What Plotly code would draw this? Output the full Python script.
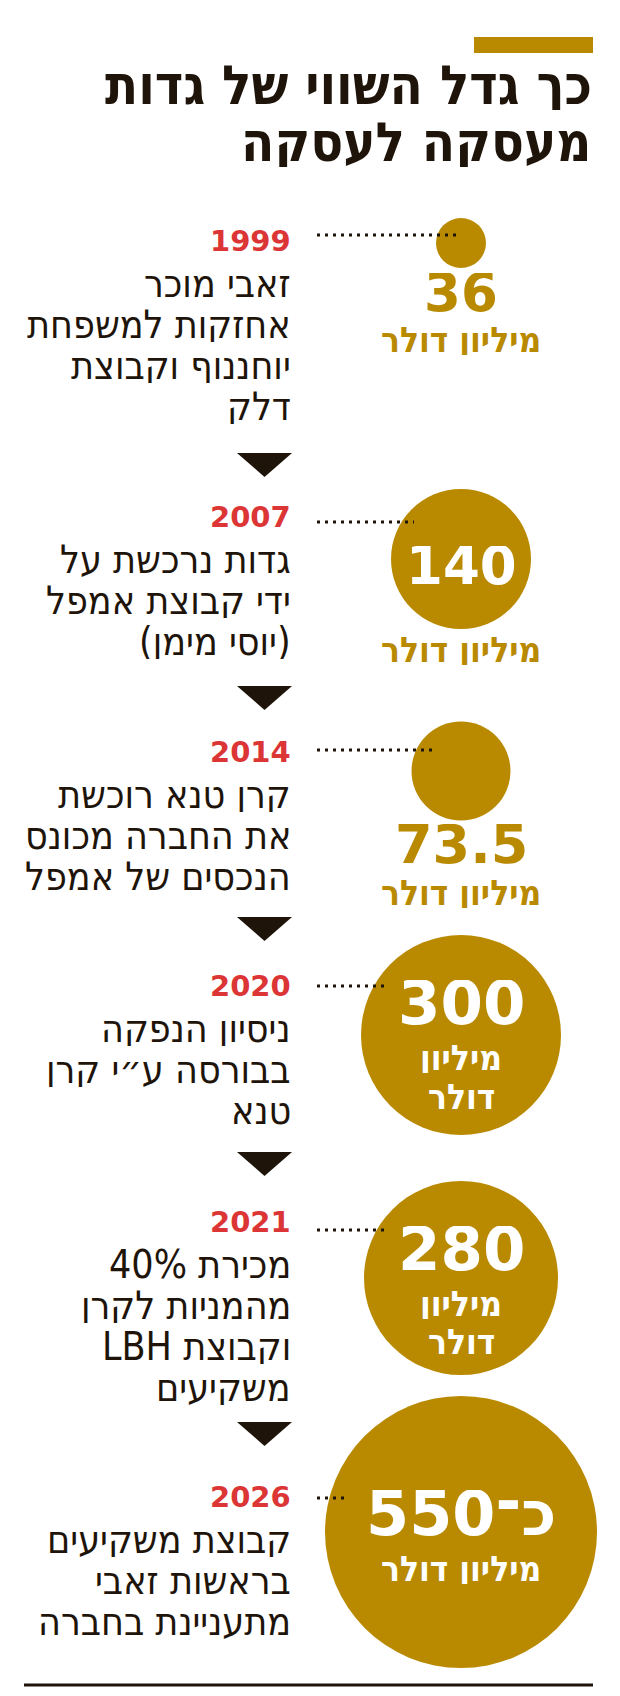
import plotly.graph_objects as go

# data
years = ["1999", "2007", "2014", "2020", "2021", "2026"]
values = [36, 140, 73.5, 300, 280, 550]
value_labels = ["36", "140", "73.5", "300", "280", "כ־550"]
events = [
    ["זאבי מוכר", "אחזקות למשפחת", "יוחננוף וקבוצת", "דלק"],
    ["גדות נרכשת על", "ידי קבוצת אמפל", "(יוסי מימן)"],
    ["קרן טנא רוכשת", "את החברה מכונס", "הנכסים של אמפל"],
    ["ניסיון הנפקה", "בבורסה ע״י קרן", "טנא"],
    ["מכירת 40%", "מהמניות לקרן", "וקבוצת LBH", "משקיעים"],
    ["קבוצת משקיעים", "בראשות זאבי", "מתעניינת בחברה"],
]
unit = "מיליון דולר"
title_lines = ["כך גדל השווי של גדות", "מעסקה לעסקה"]

# layout (pixels, y measured from top)
W, H = 620, 1696
GOLD = "#B98A00"
RED = "#DC3535"
DARK = "#1E140A"
HEB = "DejaVu Sans Condensed, DejaVu Sans, sans-serif"
NUM = "DejaVu Sans, sans-serif"


def rtl(s):
    # right-to-left embedding so mixed Hebrew/Latin lines order like the original
    return "\u202b" + s + "\u202c"


text_right = 293
circle_x = 461
year_y = [241, 517, 752, 986, 1222, 1497]
dots_y = [235, 522, 750, 986, 1230, 1498]
circle_y = [243, 559, 771, 1035, 1278, 1532]
circle_d = [50, 140, 99, 200, 194, 272]
arrow_top = [453, 686, 917, 1152, 1422]

# where the number/unit goes: inside the bubble (white) or under it (gold)
num_style = [
    dict(y=292, size=53, color=GOLD),
    dict(y=565, size=53, color="white"),
    dict(y=844, size=54, color=GOLD),
    dict(y=1002, size=61, color="white"),
    dict(y=1248, size=61, color="white"),
    dict(y=1513, size=62, color="white"),
]
unit_style = [
    dict(lines=[unit], y=[340], color=GOLD),
    dict(lines=[unit], y=[650], color=GOLD),
    dict(lines=[unit], y=[893], color=GOLD),
    dict(lines=unit.split(" "), y=[1058, 1097], color="white"),
    dict(lines=unit.split(" "), y=[1304, 1342], color="white"),
    dict(lines=[unit], y=[1569], color="white"),
]

fig = go.Figure()

fig.add_trace(go.Scatter(
    x=[circle_x] * len(values), y=circle_y,
    mode="markers",
    marker=dict(size=circle_d, color=GOLD, opacity=1, line=dict(width=0)),
    customdata=values, hoverinfo="skip", showlegend=False,
))

shapes = []
annotations = []

# gold bar + title
shapes.append(dict(type="rect", x0=474, x1=593, y0=37, y1=53,
                   fillcolor=GOLD, line=dict(width=0)))
for line, y in zip(title_lines, [85, 142]):
    annotations.append(dict(x=594, y=y, text=rtl(line), xanchor="right", yanchor="middle",
                            height=50, showarrow=False,
                            font=dict(family=HEB, size=54, color=DARK, weight="bold")))

for i, yr in enumerate(years):
    annotations.append(dict(x=text_right, y=year_y[i], text=yr, xanchor="right",
                            yanchor="middle", height=26, showarrow=False,
                            font=dict(family=NUM, size=29, color=RED, weight="bold")))
    for j, line in enumerate(events[i]):
        annotations.append(dict(x=text_right, y=year_y[i] + 42 + 41 * j, text=rtl(line),
                                xanchor="right", yanchor="middle", height=36,
                                showarrow=False,
                                font=dict(family=HEB, size=39, color=DARK)))
    # dotted connector into the bubble
    x_end = circle_x - circle_d[i] / 2 + 23
    shapes.append(dict(type="line", x0=317, x1=x_end, y0=dots_y[i], y1=dots_y[i],
                       line=dict(color=DARK, width=3, dash="3px,5px")))
    ns = num_style[i]
    annotations.append(dict(x=circle_x, y=ns["y"], text=rtl(value_labels[i]),
                            xanchor="center", yanchor="middle",
                            height=int(ns["size"] * 0.75), showarrow=False,
                            font=dict(family=NUM, size=ns["size"], color=ns["color"],
                                      weight="bold")))
    us = unit_style[i]
    for line, y in zip(us["lines"], us["y"]):
        annotations.append(dict(x=circle_x, y=y, text=rtl(line), xanchor="center",
                                yanchor="middle", height=30, showarrow=False,
                                font=dict(family=HEB, size=35, color=us["color"],
                                          weight="bold")))

# arrows between the rows
for t in arrow_top:
    shapes.append(dict(type="path", path=f"M 237 {t} L 292 {t} L 264.5 {t + 24} Z",
                       fillcolor=DARK, line=dict(width=0)))

# closing rule
shapes.append(dict(type="line", x0=24, x1=593, y0=1685, y1=1685,
                   line=dict(color=DARK, width=3)))

fig.update_layout(
    width=W, height=H,
    margin=dict(l=0, r=0, t=0, b=0),
    paper_bgcolor="white", plot_bgcolor="white",
    xaxis=dict(range=[0, W], visible=False, fixedrange=True),
    yaxis=dict(range=[H, 0], visible=False, fixedrange=True),
    shapes=shapes, annotations=annotations,
    showlegend=False,
)

fig.write_html("out.html", config={"displayModeBar": False},
               post_script="document.body.style.margin='0';")
